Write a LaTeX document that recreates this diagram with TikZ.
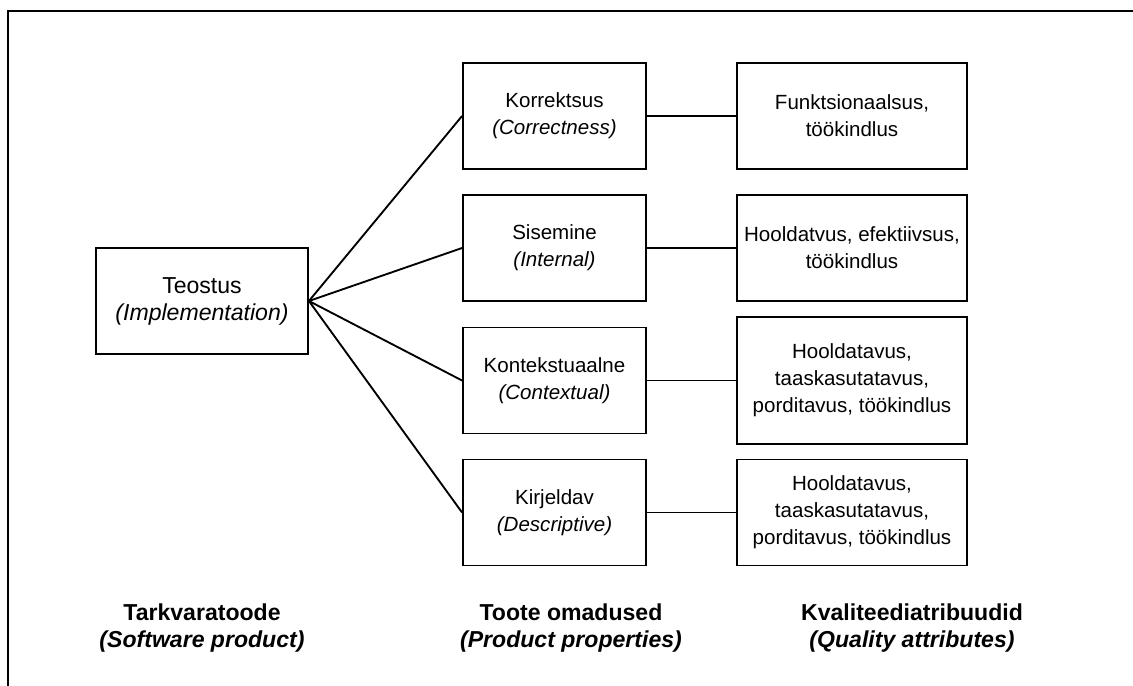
\documentclass[tikz,border=0pt]{standalone}
\usepackage{fontspec}
\setmainfont{Liberation Sans}
\newcommand\boxfont{\fontsize{15.4pt}{20.25pt}\selectfont}
\newcommand\bigfont{\fontsize{17.3pt}{20.25pt}\selectfont}
\begin{document}
\begin{tikzpicture}[x=0.75pt,y=-0.75pt,
  box/.style={draw, line width=1.4pt, align=center, inner sep=0pt, font=\boxfont},
  midbox/.style={box, minimum width=137.25pt, minimum height=79.5pt},
  attrbox/.style={box, minimum width=172.5pt, minimum height=79.5pt},
  link/.style={line width=1.4pt},
  caption/.style={align=center, font=\bigfont\bfseries, inner sep=0pt}]
\useasboundingbox (0,0) rectangle (1133,686);
% outer frame: top and left edges only
\draw[line width=1.4pt] (8,686) -- (8,11) -- (1133,11);

% software product
\node[box, font=\bigfont, minimum width=159pt, minimum height=79.5pt] (teo) at (202,301)
  {Teostus\\\textit{(Implementation)}};

% product properties
\node[midbox] (kor) at (554.5,116)   {Korrektsus\\\textit{(Correctness)}};
\node[midbox] (sis) at (554.5,248)   {Sisemine\\\textit{(Internal)}};
\node[midbox] (kon) at (554.5,380.5) {Kontekstuaalne\\\textit{(Contextual)}};
\node[midbox] (kir) at (554.5,512.5) {Kirjeldav\\\textit{(Descriptive)}};

% quality attributes
\node[attrbox] (fun) at (852,116)  {Funktsionaalsus,\\töökindlus};
\node[attrbox] (hoo) at (852,248)  {Hooldatvus, efektiivsus,\\töökindlus};
\node[attrbox, minimum height=95.25pt] (hkon) at (852,380.5)
  {Hooldatavus,\\taaskasutatavus,\\porditavus, töökindlus};
\node[attrbox] (hkir) at (852,512.5)
  {Hooldatavus,\\taaskasutatavus,\\porditavus, töökindlus};

% connectors
\foreach \m in {kor,sis,kon,kir} \draw[link] (teo.east) -- (\m.west);
\draw[link] (kor.east) -- (fun.west);
\draw[link] (sis.east) -- (hoo.west);
\draw[link] (kon.east) -- (hkon.west);
\draw[link] (kir.east) -- (hkir.west);

% column captions
\node[caption] (c1) at (202,628) {Tarkvaratoode\\\textit{(Software product)}};
\node[caption] (c2) at (571,628) {Toote omadused\\\textit{(Product properties)}};
\node[caption] (c3) at (912,628) {Kvaliteediatribuudid\\\textit{(Quality attributes)}};
\end{tikzpicture}
\end{document}
